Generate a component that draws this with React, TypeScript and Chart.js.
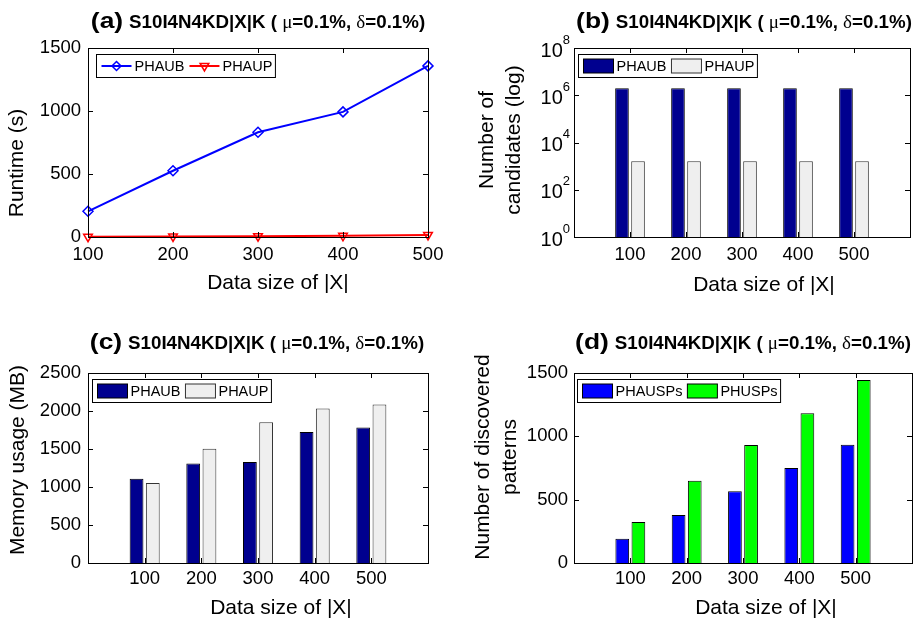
import React, { useEffect, useRef } from 'react';
import { Chart, registerables } from 'chart.js';

Chart.register(...registerables);

const FONT = "'Liberation Sans', Arial, Helvetica, sans-serif";
const SERIF = "'Liberation Serif', 'Times New Roman', serif";

// ---------------- data ----------------
const sizes = ['100', '200', '300', '400', '500'];
const runtimePHAUB = [204, 526, 831, 993, 1358];
const runtimePHAUP = [2, 4, 6, 9, 16];
const runtimeTicks = [0, 500, 1000, 1500];
const candPHAUB = [2.0e6, 2.0e6, 2.0e6, 2.0e6, 2.0e6];
const candPHAUP = [1600, 1600, 1600, 1600, 1600];
const candTicks = [1, 1e2, 1e4, 1e6, 1e8];
const memPHAUB = [1110, 1310, 1328, 1723, 1784];
const memPHAUP = [1052, 1503, 1853, 2033, 2087];
const memTicks = [0, 500, 1000, 1500, 2000, 2500];
const patPHAUSPs = [192, 379, 566, 750, 934];
const patPHUSPs = [324, 650, 932, 1182, 1445];
const patTicks = [0, 500, 1000, 1500];
const xTitleText = 'Data size of |X|';

const NAVY = '#00008f';
const GREY = '#efefef';

// ---------------- drawing helpers ----------------
function line(ctx: any, x1: number, y1: number, x2: number, y2: number) {
  ctx.beginPath();
  ctx.moveTo(x1, y1);
  ctx.lineTo(x2, y2);
  ctx.stroke();
}

function drawTitle(ctx: any, tag: string, cx: number, baseline: number) {
  const big = `bold 22px ${FONT}`;
  const bold = `bold 17.5px ${FONT}`;
  const serif = `19px ${SERIF}`;
  const sBig = 1.2;
  const sRest = 1.07;
  const segs = [
    { t: tag, f: big, s: sBig, gap: 6 },
    { t: 'S10I4N4KD|X|K ( ', f: bold, s: sRest, gap: 0 },
    { t: 'μ', f: serif, s: 1, gap: 0 },
    { t: '=0.1%, ', f: bold, s: sRest, gap: 0 },
    { t: 'δ', f: serif, s: 1, gap: 0 },
    { t: '=0.1%)', f: bold, s: sRest, gap: 0 },
  ];
  let total = 0;
  const widths = segs.map((sg) => {
    ctx.font = sg.f;
    const w = ctx.measureText(sg.t).width * sg.s + sg.gap;
    total += w;
    return w;
  });
  let x = cx - total / 2;
  ctx.fillStyle = '#000';
  ctx.textAlign = 'left';
  ctx.textBaseline = 'alphabetic';
  segs.forEach((sg, i) => {
    ctx.save();
    ctx.translate(x, baseline);
    ctx.scale(sg.s, 1);
    ctx.font = sg.f;
    ctx.fillText(sg.t, 0, 0);
    ctx.restore();
    x += widths[i];
  });
}

const decorPlugin = {
  id: 'decor',
  afterDraw(chart: any, _args: any, o: any) {
    const ctx = chart.ctx;
    const ca = chart.chartArea;
    const l = Math.round(ca.left);
    const t = Math.round(ca.top);
    const r = Math.round(ca.right);
    const b = Math.round(ca.bottom);
    const ys = chart.scales.y;
    const xs = chart.scales.x;
    ctx.save();

    // log-scale tick labels with superscripts
    if (o.logLabels) {
      ctx.fillStyle = '#000';
      ctx.textBaseline = 'middle';
      ctx.textAlign = 'right';
      ys.ticks.forEach((tk: any) => {
        const py = ys.getPixelForValue(tk.value);
        const e = String(Math.round(Math.log10(tk.value)));
        ctx.font = `13px ${FONT}`;
        const ew = ctx.measureText(e).width;
        const xr = l - 4;
        ctx.fillText(e, xr, py - 8);
        ctx.font = `20px ${FONT}`;
        ctx.fillText('10', xr - ew, py + 3);
      });
    }

    // frame
    ctx.strokeStyle = '#000';
    ctx.lineWidth = 1;
    ctx.strokeRect(l + 0.5, t + 0.5, r - l, b - t);

    // inward ticks
    ys.ticks.forEach((tk: any) => {
      const py = Math.round(ys.getPixelForValue(tk.value)) + 0.5;
      line(ctx, l, py, l + 5, py);
      line(ctx, r, py, r - 5, py);
    });
    const labels: string[] = chart.data.labels;
    labels.forEach((lab, i) => {
      if (!lab) return;
      const px = Math.round(xs.getPixelForValue(i)) + 0.5;
      line(ctx, px, b, px, b - 5);
      line(ctx, px, t, px, t + 5);
    });

    // title
    drawTitle(ctx, o.title.tag, o.title.cx, o.title.baseline);

    // axis titles
    ctx.fillStyle = '#000';
    ctx.font = `21px ${FONT}`;
    ctx.textAlign = 'center';
    ctx.textBaseline = 'middle';
    ctx.fillText(o.xTitle.text, o.xTitle.x, o.xTitle.y);
    o.yTitle.lines.forEach((txt: string, i: number) => {
      ctx.save();
      ctx.translate(o.yTitle.xs[i], o.yTitle.y);
      ctx.rotate(-Math.PI / 2);
      ctx.fillText(txt, 0, 0);
      ctx.restore();
    });

    // legend
    const ds = chart.data.datasets;
    const isLine = chart.config.type === 'line';
    ctx.font = `14.5px ${FONT}`;
    let w = 5;
    ds.forEach((d: any, i: number) => {
      w += 33 + ctx.measureText(d.label).width + (i < ds.length - 1 ? 5 : 0);
    });
    w += 3;
    const bx = l + o.legend.dx + 0.5;
    const by = t + o.legend.dy + 0.5;
    const bh = 23;
    ctx.fillStyle = '#fff';
    ctx.fillRect(bx, by, w, bh);
    ctx.strokeStyle = '#000';
    ctx.lineWidth = 1;
    ctx.strokeRect(bx, by, w, bh);
    let x = bx + 5;
    const cy = by + bh / 2;
    ds.forEach((d: any) => {
      if (isLine) {
        ctx.strokeStyle = d.borderColor;
        ctx.lineWidth = 2;
        line(ctx, x, cy, x + 30, cy);
        const mx = x + 15;
        ctx.lineWidth = 1.5;
        ctx.beginPath();
        if (d.pointStyle === 'rectRot') {
          const rr = 4.5;
          ctx.moveTo(mx, cy - rr);
          ctx.lineTo(mx + rr, cy);
          ctx.lineTo(mx, cy + rr);
          ctx.lineTo(mx - rr, cy);
        } else {
          const rr = 5;
          ctx.moveTo(mx - rr * 0.87, cy - rr * 0.5);
          ctx.lineTo(mx + rr * 0.87, cy - rr * 0.5);
          ctx.lineTo(mx, cy + rr);
        }
        ctx.closePath();
        ctx.stroke();
      } else {
        ctx.fillStyle = d.backgroundColor;
        ctx.fillRect(x, cy - 7, 30, 14);
        ctx.strokeStyle = d.borderColor;
        ctx.lineWidth = 1;
        ctx.strokeRect(x, cy - 7, 30, 14);
      }
      x += 33;
      ctx.fillStyle = '#000';
      ctx.font = `14.5px ${FONT}`;
      ctx.textAlign = 'left';
      ctx.textBaseline = 'middle';
      ctx.fillText(d.label, x, cy + 0.5);
      x += ctx.measureText(d.label).width + 5;
    });

    ctx.restore();
  },
};

// ---------------- scale builders ----------------
const tickFont = { family: FONT, size: 18.5 };
const noGrid = { display: false, drawTicks: false, tickLength: 0 };

function catX(labels: string[], height: number, pad: number) {
  return {
    type: 'category',
    labels,
    offset: false,
    grid: noGrid,
    border: { display: false },
    ticks: { font: tickFont, color: '#000', padding: pad, autoSkip: false, maxRotation: 0 },
    afterFit: (s: any) => {
      s.height = height;
    },
  };
}

function linY(ticks: number[], width: number, pad: number) {
  return {
    type: 'linear',
    position: 'left',
    min: ticks[0],
    max: ticks[ticks.length - 1],
    grid: noGrid,
    border: { display: false },
    ticks: {
      font: tickFont,
      color: '#000',
      padding: pad,
      callback: (v: any) => String(v),
    },
    afterBuildTicks: (s: any) => {
      s.ticks = ticks.map((v) => ({ value: v }));
    },
    afterFit: (s: any) => {
      s.width = width;
    },
  };
}

function logY(ticks: number[], width: number) {
  return {
    type: 'logarithmic',
    position: 'left',
    min: ticks[0],
    max: ticks[ticks.length - 1],
    grid: noGrid,
    border: { display: false },
    ticks: { display: false },
    afterBuildTicks: (s: any) => {
      s.ticks = ticks.map((v) => ({ value: v }));
    },
    afterFit: (s: any) => {
      s.width = width;
    },
  };
}

const padded = (arr: any[]) => [null, ...arr, null];
const barLabels = ['', ...sizes, ''];

function barDs(label: string, data: number[], fill: string, border: string) {
  return {
    label,
    data: padded(data),
    backgroundColor: fill,
    borderColor: border,
    borderWidth: 1,
    categoryPercentage: 0.573,
    barPercentage: 0.85,
  };
}

function baseOptions(padding: any, scales: any, decor: any) {
  return {
    animation: false,
    responsive: false,
    devicePixelRatio: 1,
    layout: { padding },
    scales,
    plugins: {
      legend: { display: false },
      tooltip: { enabled: false },
      title: { display: false },
      decor,
    },
  };
}

type Spec = { x: number; y: number; w: number; h: number; make: () => any };

const specs: Spec[] = [
  {
    x: 0,
    y: 0,
    w: 458,
    h: 310,
    make: () => ({
      type: 'line',
      data: {
        labels: sizes,
        datasets: [
          {
            label: 'PHAUB',
            data: runtimePHAUB,
            borderColor: '#0000ff',
            borderWidth: 2,
            pointStyle: 'rectRot',
            pointRadius: 5,
            pointBorderWidth: 1.5,
            pointBorderColor: '#0000ff',
            pointBackgroundColor: 'rgba(0,0,0,0)',
            clip: false,
          },
          {
            label: 'PHAUP',
            data: runtimePHAUP,
            borderColor: '#ff0000',
            borderWidth: 2,
            pointStyle: 'triangle',
            pointRotation: 180,
            pointRadius: 5,
            pointBorderWidth: 1.5,
            pointBorderColor: '#ff0000',
            pointBackgroundColor: 'rgba(0,0,0,0)',
            clip: false,
          },
        ],
      },
      options: baseOptions(
        { left: 0, top: 48, right: 30, bottom: 0 },
        { x: catX(sizes, 73, 7), y: linY(runtimeTicks, 88, 7) },
        {
          title: { tag: '(a)', cx: 258, baseline: 27.5 },
          xTitle: { text: xTitleText, x: 278, y: 283 },
          yTitle: { lines: ['Runtime (s)'], xs: [17], y: 163 },
          legend: { dx: 8, dy: 6 },
        }
      ),
      plugins: [decorPlugin],
    }),
  },
  {
    x: 458,
    y: 0,
    w: 459,
    h: 310,
    make: () => ({
      type: 'bar',
      data: {
        labels: barLabels,
        datasets: [barDs('PHAUB', candPHAUB, NAVY, '#000'), barDs('PHAUP', candPHAUP, GREY, '#333')],
      },
      options: baseOptions(
        { left: 0, top: 48, right: 4, bottom: 0 },
        { x: catX(barLabels, 73, 7), y: logY(candTicks, 116) },
        {
          logLabels: true,
          title: { tag: '(b)', cx: 286, baseline: 27.5 },
          xTitle: { text: xTitleText, x: 306, y: 285 },
          yTitle: { lines: ['Number of', 'candidates (log)'], xs: [29, 56], y: 140 },
          legend: { dx: 4, dy: 6 },
        }
      ),
      plugins: [decorPlugin],
    }),
  },
  {
    x: 0,
    y: 310,
    w: 458,
    h: 311,
    make: () => ({
      type: 'bar',
      data: {
        labels: barLabels,
        datasets: [barDs('PHAUB', memPHAUB, NAVY, '#000'), barDs('PHAUP', memPHAUP, GREY, '#333')],
      },
      options: baseOptions(
        { left: 0, top: 63, right: 30, bottom: 0 },
        { x: catX(barLabels, 58, 5), y: linY(memTicks, 88, 7) },
        {
          title: { tag: '(c)', cx: 257, baseline: 39 },
          xTitle: { text: xTitleText, x: 281, y: 298 },
          yTitle: { lines: ['Memory usage (MB)'], xs: [18], y: 150 },
          legend: { dx: 4, dy: 6 },
        }
      ),
      plugins: [decorPlugin],
    }),
  },
  {
    x: 458,
    y: 310,
    w: 459,
    h: 311,
    make: () => ({
      type: 'bar',
      data: {
        labels: barLabels,
        datasets: [
          barDs('PHAUSPs', patPHAUSPs, '#0000ff', '#000'),
          barDs('PHUSPs', patPHUSPs, '#00ff00', '#000'),
        ],
      },
      options: baseOptions(
        { left: 0, top: 63, right: 4, bottom: 0 },
        { x: catX(barLabels, 58, 5), y: linY(patTicks, 116, 6) },
        {
          title: { tag: '(d)', cx: 285, baseline: 39 },
          xTitle: { text: xTitleText, x: 308, y: 298 },
          yTitle: { lines: ['Number of discovered', 'patterns'], xs: [25, 52], y: 147 },
          legend: { dx: 3, dy: 6 },
        }
      ),
      plugins: [decorPlugin],
    }),
  },
];

function ChartBox({ spec }: { spec: Spec }) {
  const ref = useRef<HTMLCanvasElement>(null);
  useEffect(() => {
    const chart = new Chart(ref.current as HTMLCanvasElement, spec.make());
    return () => chart.destroy();
  }, [spec]);
  return (
    <canvas
      ref={ref}
      width={spec.w}
      height={spec.h}
      style={{ position: 'absolute', left: spec.x, top: spec.y, width: spec.w, height: spec.h }}
    />
  );
}

export default function App() {
  return (
    <div style={{ position: 'absolute', left: 0, top: 0, width: 917, height: 621, background: '#fff' }}>
      {specs.map((s, i) => (
        <ChartBox key={i} spec={s} />
      ))}
    </div>
  );
}
